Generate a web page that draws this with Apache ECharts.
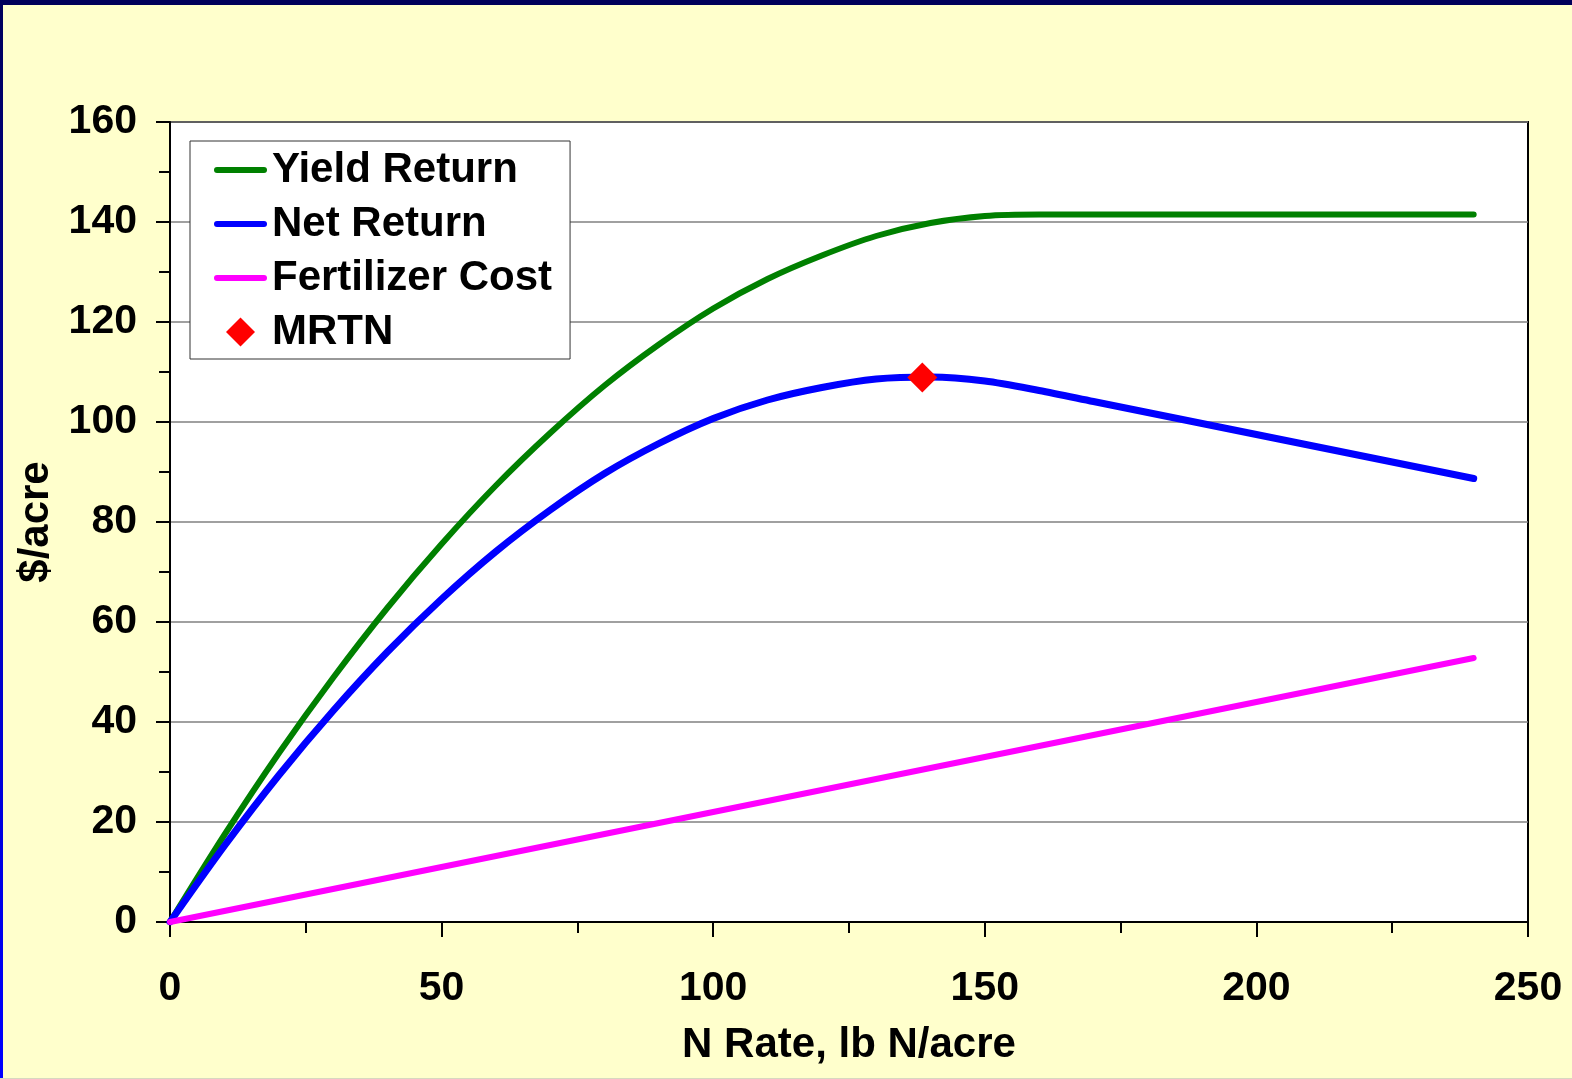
<!DOCTYPE html>
<html>
<head>
<meta charset="utf-8">
<title>Economic return to N rate</title>
<script src="https://cdn.jsdelivr.net/npm/echarts@6/dist/echarts.min.js"></script>
<style>
  html, body { margin: 0; padding: 0; background: #FFFFCC; }
  #wrap { position: relative; width: 1572px; height: 1079px; overflow: hidden; }
  #chart { position: absolute; left: 0; top: 0; width: 1572px; height: 1079px; }
  .bar-top { position: absolute; left: 0; top: 0; width: 1572px; height: 5px; background: #00005a; }
  .bar-left { position: absolute; left: 0; top: 0; width: 3px; height: 1079px;
              background: linear-gradient(#00005a, #0000c8 60%, #0000ff); }
  .bar-bottom { position: absolute; left: 0; bottom: 0; width: 1572px; height: 1px; background: #d8d8c0; }
</style>
</head>
<body>
<div id="wrap">
  <div id="chart"></div>
  <div class="bar-top"></div>
  <div class="bar-left"></div>
  <div class="bar-bottom"></div>
</div>
<script>
// N rate (lb N/acre) sampled every 10 lb
const nRate = [0, 10, 20, 30, 40, 50, 60, 70, 80, 90, 100, 110, 120,
               130, 140, 150, 160, 170, 180, 190, 200, 210, 220, 230, 240];

// Gross return from yield ($/acre)
const yieldReturn = [0, 17.4, 33.7, 48.8, 62.8, 75.6, 87.3, 97.8, 107.3, 115.5, 122.7, 128.6, 133.3,
                     137.2, 139.8, 141.2, 141.5, 141.5, 141.5, 141.5, 141.5, 141.5, 141.5, 141.5, 141.5];

// Return after fertilizer cost ($/acre)
const netReturn = [0, 15.2, 29.3, 42.2, 54.0, 64.6, 74.1, 82.4, 89.7, 95.7, 100.7, 104.4, 106.9,
                   108.6, 109.0, 108.2, 106.3, 104.1, 101.9, 99.7, 97.5, 95.3, 93.1, 90.9, 88.7];

// Fertilizer cost line end points
const costRate = [0, 240];
const fertilizerCost = [0, 52.8];

// Maximum return to N
const mrtnRate = 138.5;
const mrtnReturn = 108.9;

// Axis ticks
const xTicks = { min: 0, max: 250, step: 50 };
const yTicks = { min: 0, max: 160, step: 20 };

const seriesNames = ['Yield Return', 'Net Return', 'Fertilizer Cost', 'MRTN'];

const pairs = (xs, ys) => xs.map((x, i) => [x, ys[i]]);

const FONT = '"Liberation Sans", Arial, sans-serif';
const textBase = { color: '#000', fontFamily: FONT, fontWeight: 'bold', fontSize: 41 };

// legend swatches: short round-ended bar for the lines, square diamond for the marker
const LINE_ICON = 'path://M3,0 H50 A3,3 0 0 1 50,6 H3 A3,3 0 0 1 3,0 Z';
const DIAMOND_ICON = 'path://M15,0 L30,15 L15,30 L0,15 Z';

const chart = echarts.init(document.getElementById('chart'), null, { renderer: 'canvas' });

const axisCommon = {
  type: 'value',
  axisLine: { show: true, onZero: false, lineStyle: { color: '#000', width: 2 } },
  minorTick: { show: true, splitNumber: 2, length: 11, lineStyle: { color: '#000', width: 2 } },
  nameLocation: 'middle',
  nameTextStyle: Object.assign({}, textBase, { fontSize: 42 })
};

chart.setOption({
  backgroundColor: '#FFFFCC',
  animation: false,
  grid: {
    left: 170, right: 44, top: 122, bottom: 157,
    show: true, backgroundColor: '#ffffff', borderColor: '#000', borderWidth: 2
  },
  legend: {
    left: 190, top: 141,
    orient: 'vertical',
    backgroundColor: '#ffffff',
    borderColor: '#333',
    borderWidth: 1,
    borderRadius: 0,
    padding: [8, 18, 6, 24],
    itemWidth: 53,
    itemHeight: 29,
    itemGap: 12,
    itemTextGap: 10,
    symbolKeepAspect: true,
    textStyle: Object.assign({}, textBase, { fontSize: 42, lineHeight: 41 }),
    data: [
      { name: seriesNames[0], icon: LINE_ICON },
      { name: seriesNames[1], icon: LINE_ICON },
      { name: seriesNames[2], icon: LINE_ICON },
      { name: seriesNames[3], icon: DIAMOND_ICON }
    ]
  },
  xAxis: Object.assign({}, axisCommon, {
    min: xTicks.min, max: xTicks.max, interval: xTicks.step,
    name: 'N Rate, lb N/acre',
    nameGap: 102,
    axisTick: { show: true, length: 15, lineStyle: { color: '#000', width: 2 } },
    axisLabel: Object.assign({}, textBase, { margin: 46 }),
    splitLine: { show: false }
  }),
  yAxis: Object.assign({}, axisCommon, {
    min: yTicks.min, max: yTicks.max, interval: yTicks.step,
    name: '$/acre',
    nameGap: 107,
    axisTick: { show: true, length: 14, lineStyle: { color: '#000', width: 2 } },
    axisLabel: Object.assign({}, textBase, { margin: 33, lineHeight: 41, padding: [12, 0, 0, 0] }),
    splitLine: { show: true, lineStyle: { color: '#808080', width: 1.5 } }
  }),
  series: [
    {
      name: seriesNames[0], type: 'line', data: pairs(nRate, yieldReturn),
      smooth: 0.3, symbol: 'none', color: '#008000',
      lineStyle: { color: '#008000', width: 6, cap: 'round', join: 'round' }
    },
    {
      name: seriesNames[1], type: 'line', data: pairs(nRate, netReturn),
      smooth: 0.3, symbol: 'none', color: '#0000ff',
      lineStyle: { color: '#0000ff', width: 7, cap: 'round', join: 'round' }
    },
    {
      name: seriesNames[2], type: 'line', data: pairs(costRate, fertilizerCost),
      symbol: 'none', color: '#ff00ff',
      lineStyle: { color: '#ff00ff', width: 6, cap: 'round', join: 'round' }
    },
    {
      name: seriesNames[3], type: 'scatter', data: [[mrtnRate, mrtnReturn]],
      symbol: 'diamond', symbolSize: 30, color: '#ff0000',
      itemStyle: { color: '#ff0000', opacity: 1 }, z: 5
    }
  ]
});
</script>
</body>
</html>
